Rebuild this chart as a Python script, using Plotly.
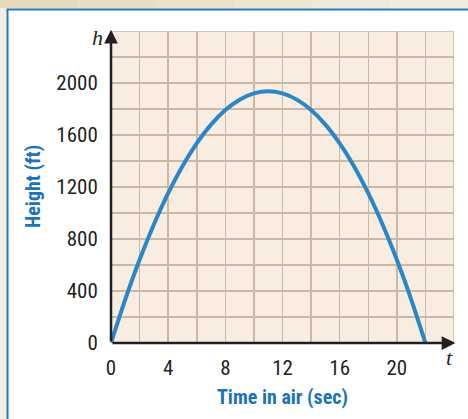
import plotly.graph_objects as go

# Data
t_sec = [0, 1, 2, 3, 4, 5, 6, 7, 8, 9, 10, 11, 12, 13, 14, 15, 16, 17, 18, 19, 20, 21, 22]
height_ft = [0, 336, 640, 912, 1152, 1360, 1536, 1680, 1792, 1872, 1920, 1936, 1920, 1872,
             1792, 1680, 1536, 1360, 1152, 912, 640, 336, 0]

x_tickvals = list(range(0, 25, 2))
x_ticktext = ["0", "", "4", "", "8", "", "12", "", "16", "", "20", "", ""]
y_tickvals = list(range(0, 2401, 200))
y_ticktext = ["0", "", "400", "", "800", "", "1200", "", "1600", "", "2000", "", ""]

W, H = 468, 419
L, R, T, B = 111, 14, 31, 76
PW, PH = W - L - R, H - T - B

def px(xp):
    return (xp - L) / PW

def py(yp):
    return (H - B - yp) / PH

BLUE = "#1f7bc4"
CURVE = "#2a86c9"
TICKFONT = dict(family="Liberation Sans Narrow, Arial Narrow, Roboto Condensed, sans-serif",
                size=21, color="#231f20")
TITLEFONT = dict(family="Liberation Sans Narrow, Arial Narrow, Roboto Condensed, sans-serif",
                 size=20, color="#1a73bb")

fig = go.Figure()
fig.add_trace(go.Scatter(x=t_sec, y=height_ft, mode="lines", line=dict(color=CURVE, width=4, shape="spline"),
                         hoverinfo="skip", showlegend=False))

shapes = []
# top beige strip (gradient-ish)
n = 6
cols = ["#e6d9bc", "#e9ddc3", "#ece2ca", "#eee5d0", "#f0e9d7", "#f2ecdd"]
for i in range(n):
    shapes.append(dict(type="rect", xref="paper", yref="paper", layer="below",
                       x0=px(i * W / n), x1=px((i + 1) * W / n + 1), y0=py(8.5), y1=py(0),
                       fillcolor=cols[i], line=dict(width=0)))
# left beige strip
shapes.append(dict(type="rect", xref="paper", yref="paper", layer="below",
                   x0=px(0), x1=px(6.5), y0=py(H), y1=py(8.5),
                   fillcolor="#f4ede2", line=dict(width=0)))
# blue border lines
shapes.append(dict(type="line", xref="paper", yref="paper", layer="below",
                   x0=px(6.5), x1=px(W), y0=py(9.5), y1=py(9.5), line=dict(color=BLUE, width=2)))
shapes.append(dict(type="line", xref="paper", yref="paper", layer="below",
                   x0=px(7.5), x1=px(7.5), y0=py(H), y1=py(9.5), line=dict(color=BLUE, width=2)))
# grid border (top/right)
shapes.append(dict(type="rect", xref="x", yref="y", layer="below",
                   x0=0, x1=24, y0=0, y1=2400, line=dict(color="#cbb9a6", width=1.5)))

annotations = [
    # axes with arrows
    dict(x=24.1, y=0, ax=0, ay=0, xref="x", yref="y", axref="x", ayref="y", text="",
         showarrow=True, arrowhead=2, arrowsize=1.1, arrowwidth=2.5, arrowcolor="#231f20"),
    dict(x=0, y=2410, ax=0, ay=0, xref="x", yref="y", axref="x", ayref="y", text="",
         showarrow=True, arrowhead=2, arrowsize=1.1, arrowwidth=2.5, arrowcolor="#231f20"),
    dict(x=px(97), y=py(37), xref="paper", yref="paper", text="<i>h</i>", showarrow=False,
         font=dict(family="Liberation Serif, Times New Roman, serif", size=22, color="#231f20"),
         xanchor="center", yanchor="middle"),
    dict(x=px(449), y=py(357), xref="paper", yref="paper", text="<i>t</i>", showarrow=False,
         font=dict(family="Liberation Serif, Times New Roman, serif", size=22, color="#231f20"),
         xanchor="center", yanchor="middle"),
    dict(x=0.5, y=py(397), xref="paper", yref="paper", text="<b>Time in air (sec)</b>",
         showarrow=False, font=TITLEFONT, xanchor="center", yanchor="middle"),
    dict(x=px(33), y=0.5, xref="paper", yref="paper", text="<b>Height (ft)</b>", textangle=-90,
         showarrow=False, font=TITLEFONT, xanchor="center", yanchor="middle"),
]

fig.update_layout(
    width=W, height=H,
    margin=dict(l=L, r=R, t=T, b=B, pad=0),
    paper_bgcolor="white",
    plot_bgcolor="#f8ede0",
    shapes=shapes,
    annotations=annotations,
    showlegend=False,
    xaxis=dict(range=[0, 24], tickvals=x_tickvals, ticktext=x_ticktext, showgrid=True,
               gridcolor="#cbb9a6", gridwidth=1.5, zeroline=False, showline=False,
               ticks="outside", ticklen=6, tickcolor="rgba(0,0,0,0)", tickfont=TICKFONT,
               fixedrange=True),
    yaxis=dict(range=[0, 2400], tickvals=y_tickvals, ticktext=y_ticktext, showgrid=True,
               gridcolor="#cbb9a6", gridwidth=1.5, zeroline=False, showline=False,
               ticks="outside", ticklen=8, tickcolor="rgba(0,0,0,0)", tickfont=TICKFONT,
               fixedrange=True),
)

fig.write_html("out.html", config={"displayModeBar": False, "staticPlot": True},
               post_script="document.body.style.margin='0';document.body.style.overflow='hidden';")
